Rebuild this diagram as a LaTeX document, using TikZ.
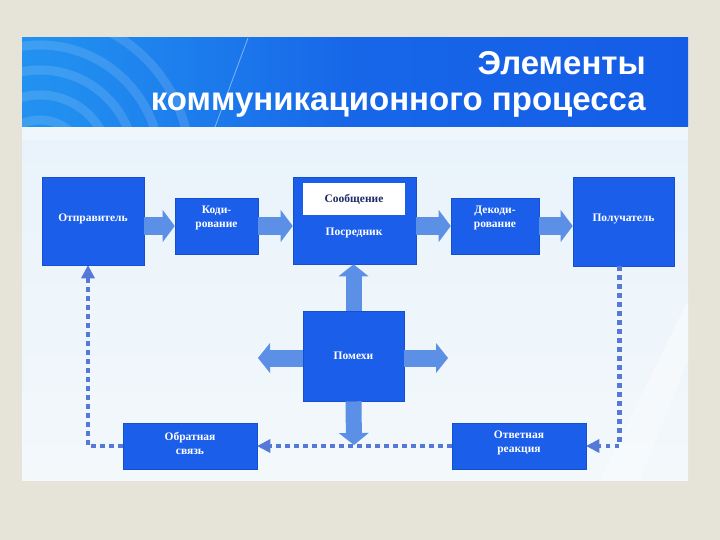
\documentclass[tikz,border=0pt]{standalone}
\usepackage{fontspec}
\setmainfont{Liberation Serif}
\newfontfamily\titlefont{Liberation Sans}
\usetikzlibrary{arrows.meta}
\definecolor{pagebg}{HTML}{E6E3D8}
\definecolor{boxblue}{HTML}{1B5EEA}
\definecolor{boxedge}{HTML}{1650D2}
\definecolor{arrblue}{HTML}{5C8FE6}
\definecolor{dotblue}{HTML}{5678D6}
\definecolor{navy}{HTML}{1C2A66}
\pgfdeclarehorizontalshading{bandshade}{100bp}{rgb(0bp)=(0.16,0.64,0.96); rgb(28bp)=(0.13,0.56,0.94); rgb(50bp)=(0.09,0.40,0.91); rgb(100bp)=(0.07,0.33,0.90)}
\tikzset{
  box/.style={fill=boxblue, draw=boxedge, line width=0.6pt, inner sep=0pt},
  lbl/.style={text=white, font=\bfseries\fontsize{11.5}{14}\selectfont, align=center},
  blockarrow/.style={draw=arrblue, line width=18pt, -{Triangle[width=32pt,length=12pt,line width=0pt]}},
  vblockarrow/.style={draw=arrblue, line width=16pt, -{Triangle[width=30pt,length=12pt,line width=0pt]}},
  dotline/.style={draw=dotblue, line width=4.5pt, dash pattern=on 4.5pt off 4.5pt, -{Triangle[width=14pt,length=13pt,line width=0pt]}}
}
\begin{document}
\begin{tikzpicture}[x=1pt,y=-1pt]
\useasboundingbox (0,0) rectangle (720,540);
% page and slide background
\fill[pagebg] (0,0) rectangle (720,540);
\shade[top color={rgb,255:red,233;green,243;blue,251}, bottom color={rgb,255:red,243;green,248;blue,251}] (22,127) rectangle (688,480);
\begin{scope}
\clip (22,127) rectangle (688,480);
\fill[white, opacity=0.35] (600,480) -- (688,300) -- (688,360) -- (640,480) -- cycle;
\fill[white, opacity=0.3] (22,127) rectangle (688,140);
\end{scope}
% title band
\shade[shading=bandshade] (22,38) rectangle (688,127);
\begin{scope}
\clip (22,38) rectangle (688,127);
\foreach \r in {45,70,95,120,150}
  \draw[white, opacity=0.13, line width=9pt] (40,165) circle (\r);
\draw[white, opacity=0.45, line width=0.8pt] (248,38) -- (215,127);
\end{scope}
\node[anchor=base east, inner sep=0pt, text=white, font=\titlefont\bfseries\fontsize{33}{33}\selectfont] (t1) at (646,75) {Элементы};
\node[anchor=base east, inner sep=0pt, text=white, font=\titlefont\bfseries\fontsize{33}{33}\selectfont] (t2) at (646,111) {коммуникационного процесса};
% boxes
\node[box, minimum width=102pt, minimum height=88pt] (snd) at (93,221) {};
\node[box, minimum width=83pt, minimum height=56pt] (kod) at (216.5,226) {};
\node[box, minimum width=123pt, minimum height=87pt] (pos) at (354.5,220.5) {};
\node[fill=white, minimum width=102pt, minimum height=32pt, inner sep=0pt] (msg) at (354,199) {};
\node[box, minimum width=88pt, minimum height=56pt] (dek) at (495,226) {};
\node[box, minimum width=101pt, minimum height=89pt] (rcv) at (623.5,221.5) {};
\node[box, minimum width=101pt, minimum height=90pt] (pom) at (353.5,356) {};
\node[box, minimum width=134pt, minimum height=46pt] (fb) at (190,446) {};
\node[box, minimum width=134pt, minimum height=46pt] (resp) at (519,446) {};
% labels
\node[lbl] at (93,219) {Отправитель};
\node[lbl] at ([yshift=8pt]kod.center) {Коди-\\рование};
\node[lbl, text=navy] at (msg.center) {Сообщение};
\node[lbl] at (354,233) {Посредник};
\node[lbl] at ([yshift=8pt]dek.center) {Декоди-\\рование};
\node[lbl] at (623.5,219) {Получатель};
\node[lbl] at (pom.center) {Помехи};
\node[lbl] at ([yshift=3pt]fb.center) {Обратная\\связь};
\node[lbl] at ([yshift=3pt]resp.center) {Ответная\\реакция};
% main flow arrows
\draw[blockarrow] (snd.east |- kod.west) -- (kod.west);
\draw[blockarrow] (kod.east) -- (pos.west |- kod.east);
\draw[blockarrow] (pos.east |- dek.west) -- (dek.west);
\draw[blockarrow] (dek.east) -- (rcv.west |- dek.east);
% noise arrows
\coordinate (nl) at (258,358);
\coordinate (nr) at (448,358);
\coordinate (nd) at (354,445);
\draw[vblockarrow] (pom.north) -- (pom.north |- pos.south);
\draw[vblockarrow] (pom.south) -- (nd);
\draw[vblockarrow, line width=17pt] (pom.west |- nl) -- (nl);
\draw[vblockarrow, line width=17pt] (pom.east |- nr) -- (nr);
% feedback dotted lines
\draw[dotline] ([xshift=-4pt]rcv.south) |- (resp.east);
\draw[dotline] (resp.west) -- (fb.east);
\draw[dotline] (fb.west) -| ([xshift=-5pt]snd.south);
\end{tikzpicture}
\end{document}
